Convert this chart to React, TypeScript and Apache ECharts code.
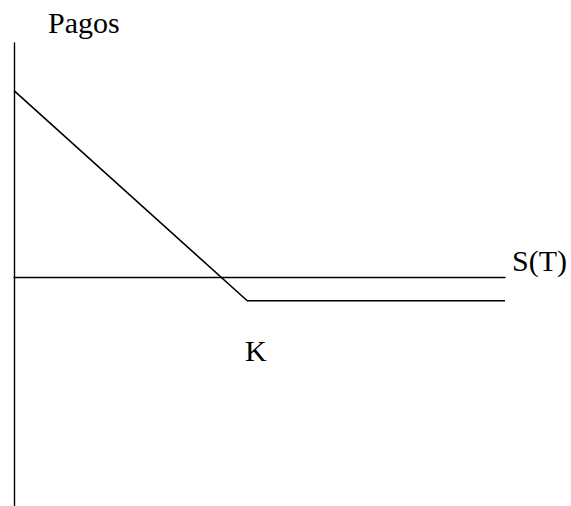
import React, { useEffect, useRef } from "react";
import * as echarts from "echarts";

// Stock price at expiry S(T) (x) and payoff (y) of the long put, net of premium
const stockPrices = [0, 47.5, 100];
const payoffs = [42.1, -5.35, -5.35];
const strikeLabel = "K";
const yAxisTitle = "Pagos";
const xAxisTitle = "S(T)";

const labelTextStyle = {
  fontFamily: "Liberation Serif",
  fontSize: 30,
  fontWeight: "normal",
  color: "#000",
};

export default function App() {
  const ref = useRef<HTMLDivElement>(null);
  useEffect(() => {
    if (!ref.current) return;
    const chart = echarts.init(ref.current, null, { renderer: "svg" });
    chart.setOption({
      animation: false,
      backgroundColor: "#ffffff",
      title: [
        { text: yAxisTitle, left: 48, top: 7, padding: 0, textStyle: labelTextStyle },
        { text: xAxisTitle, left: 512, top: 245, padding: 0, textStyle: labelTextStyle },
        { text: strikeLabel, left: 245, top: 335, padding: 0, textStyle: labelTextStyle },
      ],
      grid: { left: 14, right: 66, top: 43, bottom: 0, containLabel: false },
      xAxis: {
        type: "value",
        min: 0,
        max: 100,
        axisLine: { show: true, onZero: true, lineStyle: { color: "#000", width: 1.4 } },
        axisTick: { show: false },
        axisLabel: { show: false },
        splitLine: { show: false },
      },
      yAxis: {
        type: "value",
        min: -51.7,
        max: 52.86,
        axisLine: { show: true, onZero: true, lineStyle: { color: "#000", width: 1.4 } },
        axisTick: { show: false },
        axisLabel: { show: false },
        splitLine: { show: false },
      },
      series: [
        {
          type: "line",
          data: stockPrices.map((s, i) => [s, payoffs[i]]),
          symbol: "none",
          lineStyle: { color: "#000", width: 1.6 },
          silent: true,
        },
      ],
    });
    return () => chart.dispose();
  }, []);
  return (
    <div
      ref={ref}
      style={{ position: "absolute", left: 0, top: 0, width: 571, height: 506 }}
    />
  );
}
